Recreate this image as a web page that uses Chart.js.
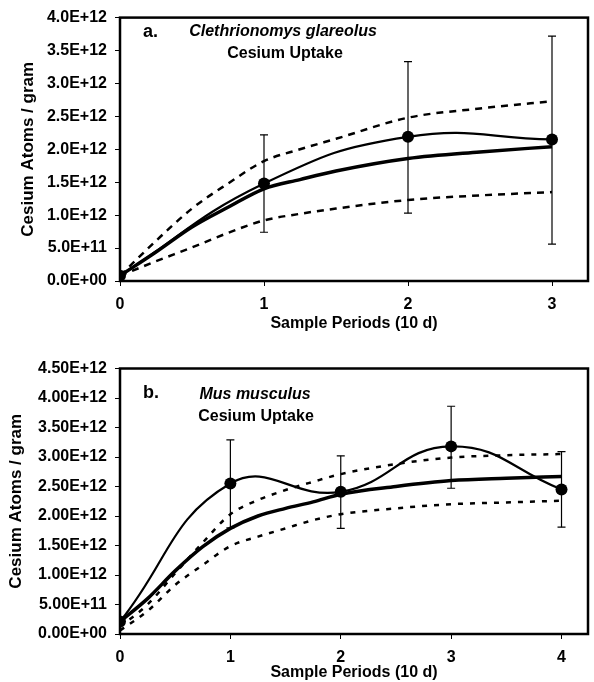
<!DOCTYPE html>
<html lang="en">

<head>
    <meta charset="UTF-8">
    <title>Cesium Uptake</title>
    <script src="https://cdn.jsdelivr.net/npm/chart.js"></script>
    <style>
        body { margin: 0; background: #fff; }
        .painel { position: absolute; left: 0; }
    </style>
</head>

<body>
    <canvas id="graficoA" class="painel" style="top:0" width="594" height="340"></canvas>
    <canvas id="graficoB" class="painel" style="top:340px" width="594" height="342"></canvas>
</body>

</html>
<script>
    // a. Clethrionomys glareolus
    const periodsA = [0, 1, 2, 3];
    const meanA = [0.08e12, 1.48e12, 2.19e12, 2.15e12];
    const errLowA = [null, 0.74e12, 1.03e12, 0.56e12];
    const errHighA = [null, 2.22e12, 3.33e12, 3.72e12];
    const fitXA = [0, 0.25, 0.5, 0.75, 1, 1.25, 1.5, 2, 2.5, 3];
    const fitA = [0.08e12, 0.44e12, 0.82e12, 1.12e12, 1.40e12, 1.54e12, 1.67e12, 1.86e12, 1.96e12, 2.04e12];
    const upperA = [0.08e12, 0.61e12, 1.10e12, 1.48e12, 1.82e12, 2.00e12, 2.16e12, 2.48e12, 2.62e12, 2.73e12];
    const lowerA = [0.08e12, 0.30e12, 0.51e12, 0.73e12, 0.92e12, 1.02e12, 1.10e12, 1.23e12, 1.30e12, 1.35e12];
    const yLabelsA = ['0.0E+00', '5.0E+11', '1.0E+12', '1.5E+12', '2.0E+12', '2.5E+12', '3.0E+12', '3.5E+12', '4.0E+12'];
    const xLabelsA = ['0', '1', '2', '3'];

    // b. Mus musculus
    const periodsB = [0, 1, 2, 3, 4];
    const meanB = [0.21e12, 2.55e12, 2.41e12, 3.18e12, 2.45e12];
    const errLowB = [null, 1.80e12, 1.79e12, 2.47e12, 1.81e12];
    const errHighB = [null, 3.29e12, 3.02e12, 3.86e12, 3.09e12];
    const fitXB = [0, 0.25, 0.5, 0.75, 1, 1.25, 1.5, 1.75, 2, 2.5, 3, 3.5, 4];
    const fitB = [0.21e12, 0.60e12, 1.07e12, 1.48e12, 1.79e12, 2.00e12, 2.13e12, 2.24e12, 2.37e12, 2.50e12, 2.60e12, 2.64e12, 2.67e12];
    const upperB = [0.12e12, 0.50e12, 1.03e12, 1.55e12, 2.03e12, 2.27e12, 2.44e12, 2.58e12, 2.71e12, 2.88e12, 2.99e12, 3.03e12, 3.05e12];
    const lowerB = [0.06e12, 0.39e12, 0.83e12, 1.17e12, 1.49e12, 1.65e12, 1.79e12, 1.93e12, 2.03e12, 2.13e12, 2.20e12, 2.23e12, 2.26e12];
    const yLabelsB = ['0.00E+00', '5.00E+11', '1.00E+12', '1.50E+12', '2.00E+12', '2.50E+12', '3.00E+12', '3.50E+12', '4.00E+12', '4.50E+12'];
    const xLabelsB = ['0', '1', '2', '3', '4'];

    Chart.defaults.font.family = "'Liberation Sans', Arial, sans-serif";
    Chart.defaults.color = '#000';

    function pares(xs, ys) {
        return xs.map(function (x, i) { return { x: x, y: ys[i] }; });
    }

    // moldura preta em volta da area do grafico
    const moldura = {
        id: 'moldura',
        afterDatasetsDraw(chart) {
            const a = chart.chartArea;
            const ctx = chart.ctx;
            ctx.save();
            ctx.strokeStyle = '#000';
            ctx.lineWidth = 2.5;
            ctx.strokeRect(a.left, a.top, a.right - a.left, a.bottom - a.top);
            ctx.restore();
        }
    };

    // textos dentro do grafico
    const textos = {
        id: 'textos',
        afterDraw(chart, args, opts) {
            const ctx = chart.ctx;
            ctx.save();
            ctx.fillStyle = '#000';
            ctx.textBaseline = 'middle';
            opts.items.forEach(function (t) {
                ctx.font = t.font;
                ctx.textAlign = t.align;
                ctx.fillText(t.text, t.x, t.y);
            });
            ctx.restore();
        }
    };

    function criarGrafico(id, d) {
        const datasets = [
            {
                data: pares(d.periods, d.mean),
                borderColor: '#000', backgroundColor: '#000',
                borderWidth: 2.2, tension: 0.45,
                pointRadius: 6, pointBackgroundColor: '#000', pointBorderWidth: 0
            },
            {
                data: pares(d.fitX, d.fit),
                borderColor: '#000', borderWidth: 3.5,
                cubicInterpolationMode: 'monotone', pointRadius: 0
            },
            {
                data: pares(d.fitX, d.upper),
                borderColor: '#000', borderWidth: 2.5, borderDash: d.dash,
                cubicInterpolationMode: 'monotone', pointRadius: 0
            },
            {
                data: pares(d.fitX, d.lower),
                borderColor: '#000', borderWidth: 2.5, borderDash: d.dash,
                cubicInterpolationMode: 'monotone', pointRadius: 0
            }
        ];
        d.periods.forEach(function (x, i) {
            if (d.errLow[i] == null) return;
            datasets.push({
                data: [{ x: x, y: d.errLow[i] }, { x: x, y: d.errHigh[i] }],
                borderColor: '#000', borderWidth: 1.2, tension: 0,
                pointStyle: 'line', pointRadius: 4, pointBorderWidth: 1.2, pointBorderColor: '#000'
            });
        });

        return new Chart(document.getElementById(id), {
            type: 'line',
            data: { datasets: datasets },
            plugins: [moldura, textos],
            options: {
                responsive: false,
                animation: false,
                layout: { padding: d.padding },
                plugins: {
                    legend: { display: false },
                    tooltip: { enabled: false },
                    textos: { items: d.textos }
                },
                scales: {
                    x: {
                        type: 'linear', min: 0, max: d.xMax,
                        afterFit: function (s) { s.height = d.xHeight; },
                        border: { display: false },
                        grid: { drawOnChartArea: false, color: '#000', tickLength: 5 },
                        ticks: {
                            stepSize: 1, includeBounds: false, padding: 9,
                            font: { size: 16, weight: 'bold' },
                            callback: function (v, i) { return d.xLabels[i]; }
                        },
                        title: {
                            display: true, text: 'Sample Periods (10 d)',
                            font: { size: 16, weight: 'bold' },
                            padding: { top: 0, bottom: d.xTitlePad }
                        }
                    },
                    y: {
                        min: 0, max: d.yMax,
                        afterFit: function (s) { s.width = 120; },
                        border: { display: false },
                        grid: { drawOnChartArea: false, color: '#000', tickLength: 5 },
                        ticks: {
                            stepSize: 5e11, autoSkip: false, padding: 8,
                            font: { size: 16, weight: 'bold' },
                            callback: function (v, i) { return d.yLabels[i]; }
                        },
                        title: {
                            display: true, text: 'Cesium Atoms / gram',
                            font: { size: 17, weight: 'bold' },
                            padding: { top: d.yTitlePad, bottom: 0 }
                        }
                    }
                }
            }
        });
    }

    criarGrafico('graficoA', {
        periods: periodsA, mean: meanA, errLow: errLowA, errHigh: errHighA,
        fitX: fitXA, fit: fitA, upper: upperA, lower: lowerA,
        xLabels: xLabelsA, yLabels: yLabelsA,
        xMax: 3.25, yMax: 4e12, dash: [7, 6],
        padding: { top: 16, right: 1, left: 0, bottom: 0 },
        xHeight: 59, xTitlePad: 7, yTitlePad: 18,
        textos: [
            { text: 'a.', x: 143, y: 32, font: 'bold 18px "Liberation Sans", Arial', align: 'left' },
            { text: 'Clethrionomys glareolus', x: 283, y: 32, font: 'italic bold 16px "Liberation Sans", Arial', align: 'center' },
            { text: 'Cesium Uptake', x: 285, y: 54, font: 'bold 16px "Liberation Sans", Arial', align: 'center' }
        ]
    });

    criarGrafico('graficoB', {
        periods: periodsB, mean: meanB, errLow: errLowB, errHigh: errHighB,
        fitX: fitXB, fit: fitB, upper: upperB, lower: lowerB,
        xLabels: xLabelsB, yLabels: yLabelsB,
        xMax: 4.24, yMax: 4.5e12, dash: [5, 7],
        padding: { top: 28.5, right: 0, left: 0, bottom: 0 },
        xHeight: 48, xTitlePad: 0, yTitlePad: 6,
        textos: [
            { text: 'b.', x: 143, y: 53, font: 'bold 18px "Liberation Sans", Arial', align: 'left' },
            { text: 'Mus musculus', x: 255, y: 55, font: 'italic bold 16px "Liberation Sans", Arial', align: 'center' },
            { text: 'Cesium Uptake', x: 256, y: 77, font: 'bold 16px "Liberation Sans", Arial', align: 'center' }
        ]
    });
</script>
